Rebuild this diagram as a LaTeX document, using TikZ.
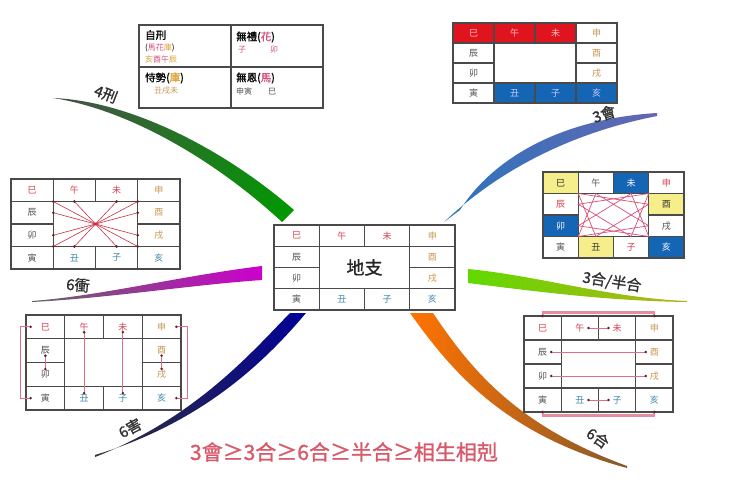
\documentclass[tikz,border=0pt]{standalone}
\usepackage{fontspec}
\setmainfont{Noto Sans CJK TC}
\newfontfamily\cjkb[FakeBold=1.2]{Noto Sans CJK TC}
\usetikzlibrary{calc}
\definecolor{gline}{HTML}{4A4A4A}
\definecolor{cred}{HTML}{D8404F}
\definecolor{ctan}{HTML}{C8964E}
\definecolor{cgray}{HTML}{505050}
\definecolor{cteal}{HTML}{3A8AA8}
\definecolor{fred}{HTML}{E0141E}
\definecolor{fblue}{HTML}{1565B5}
\definecolor{fyel}{HTML}{F6EE8A}
\definecolor{lpink}{HTML}{E07088}
\definecolor{lred}{HTML}{D03040}
\definecolor{dotcol}{HTML}{5A2030}
\definecolor{tp}{HTML}{D8507A}
\definecolor{ty}{HTML}{E0A030}
\definecolor{tt}{HTML}{C89A60}
\definecolor{bottomred}{HTML}{D85A6A}
\definecolor{labcol}{HTML}{303030}
\tikzset{
  gridline/.style={draw=gline, line width=1.1pt},
  cellt/.style={font=\fontsize{9}{10}\selectfont, inner sep=1pt},
  lsi/.style={text=cred}, lwu/.style={text=cred}, lwei/.style={text=cred},
  lshen/.style={text=ctan}, lyou/.style={text=ctan}, lxu/.style={text=ctan},
  lchen/.style={text=cgray}, lmao/.style={text=cgray}, lyin/.style={text=cgray},
  lchou/.style={text=cteal}, lzi/.style={text=cteal}, lhai/.style={text=cteal},
  chong/.style={draw=lred, line width=0.6pt},
  tri/.style={draw=tp, line width=0.7pt},
  hai/.style={draw=lpink, line width=0.9pt},
  he/.style={draw=lpink, line width=0.9pt},
  hebar/.style={draw=lpink!80, line width=2.2pt},
  branchlab/.style={font=\cjkb\fontsize{15}{16}\selectfont, text=labcol, inner sep=0pt},
  tabhead/.style={font=\cjkb\fontsize{10.5}{11}\selectfont, anchor=west, inner sep=0pt, text=black},
  tabsmall/.style={font=\fontsize{8}{9}\selectfont, anchor=west, inner sep=0pt},
}
\newcommand\dzgrid[5]{%
  \pgfmathsetmacro\gx{#2}\pgfmathsetmacro\gy{#3}%
  \pgfmathsetmacro\gw{(#4-#2)/4}\pgfmathsetmacro\gh{(#5-#3)/4}%
  \draw[gridline] (#2,#3) rectangle (#4,#5);
  \draw[gridline] (\gx+\gw,#3) -- (\gx+\gw,#5);
  \draw[gridline] (\gx+3*\gw,#3) -- (\gx+3*\gw,#5);
  \draw[gridline] (\gx+2*\gw,#3) -- (\gx+2*\gw,\gy+\gh);
  \draw[gridline] (\gx+2*\gw,\gy+3*\gh) -- (\gx+2*\gw,#5);
  \draw[gridline] (#2,\gy+\gh) -- (#4,\gy+\gh);
  \draw[gridline] (#2,\gy+3*\gh) -- (#4,\gy+3*\gh);
  \draw[gridline] (#2,\gy+2*\gh) -- (\gx+\gw,\gy+2*\gh);
  \draw[gridline] (\gx+3*\gw,\gy+2*\gh) -- (#4,\gy+2*\gh);
  \node[cellt,lsi] (#1-si) at (\gx+0.5*\gw,\gy+0.5*\gh) {巳};
  \node[cellt,lwu] (#1-wu) at (\gx+1.5*\gw,\gy+0.5*\gh) {午};
  \node[cellt,lwei] (#1-wei) at (\gx+2.5*\gw,\gy+0.5*\gh) {未};
  \node[cellt,lshen] (#1-shen) at (\gx+3.5*\gw,\gy+0.5*\gh) {申};
  \node[cellt,lchen] (#1-chen) at (\gx+0.5*\gw,\gy+1.5*\gh) {辰};
  \node[cellt,lyou] (#1-you) at (\gx+3.5*\gw,\gy+1.5*\gh) {酉};
  \node[cellt,lmao] (#1-mao) at (\gx+0.5*\gw,\gy+2.5*\gh) {卯};
  \node[cellt,lxu] (#1-xu) at (\gx+3.5*\gw,\gy+2.5*\gh) {戌};
  \node[cellt,lyin] (#1-yin) at (\gx+0.5*\gw,\gy+3.5*\gh) {寅};
  \node[cellt,lchou] (#1-chou) at (\gx+1.5*\gw,\gy+3.5*\gh) {丑};
  \node[cellt,lzi] (#1-zi) at (\gx+2.5*\gw,\gy+3.5*\gh) {子};
  \node[cellt,lhai] (#1-hai) at (\gx+3.5*\gw,\gy+3.5*\gh) {亥};
}
\newcommand\cellfill[7]{%
  \pgfmathsetmacro\cw{(#4-#2)/4}\pgfmathsetmacro\ch{(#5-#3)/4}%
  \fill[#1] (#2+#6*\cw,#3+#7*\ch) rectangle ++(\cw,\ch);
}
\newcommand\dzdot[1]{\fill[dotcol] #1 circle (1.4);}
\begin{document}
\begin{tikzpicture}[x=1pt,y=-1pt]
\fill[white] (0,0) rectangle (750,500);
\useasboundingbox (0,0) rectangle (750,500);

% ---------- branches ----------
\shade[left color=black!70, right color=green!60!black]
  (53,98) .. controls (130,101) and (224,149) .. (294,210)
  -- (282,222) .. controls (216,161) and (130,110) .. (53,98) -- cycle;
\shade[left color=fblue!90, right color=black!50!blue!60]
  (444,222) .. controls (478,190) and (545,138) .. (657,116)
  -- (657,113) .. controls (545,120) and (485,170) .. (460,210) -- cycle;
\shade[left color=black!60, right color=magenta!80!black]
  (32,301) .. controls (100,296) and (180,276) .. (262,266)
  -- (262,280) .. controls (190,285) and (110,298) .. (32,302) -- cycle;
\shade[left color=black!80, right color=blue!60!black]
  (290,313) .. controls (252,352) and (195,418) .. (95,457)
  -- (95,455) .. controls (205,422) and (268,358) .. (306,313) -- cycle;
\shade[left color=orange!90!red, right color=brown!70!black]
  (410,313) .. controls (452,372) and (505,435) .. (627,468)
  -- (627,466) .. controls (515,425) and (470,368) .. (433,313) -- cycle;
\shade[left color=green!55!yellow!85!black, right color=olive!60]
  (468,269) .. controls (540,276) and (610,298) .. (687,301)
  -- (687,302) .. controls (610,301) and (540,292) .. (468,283) -- cycle;

\node[branchlab, rotate=-21] (l4x) at (106,94) {4刑};
\node[branchlab, rotate=18] (l3h) at (604,114) {3會};
\node[branchlab, rotate=-5] (l6c) at (78,285) {6衝};
\node[branchlab, rotate=-9] (l3he) at (612,282) {3合/半合};
\node[branchlab, rotate=28] (l6h) at (130,428) {6害};
\node[branchlab, rotate=-35] (l6he) at (598,438) {6合};

% ---------- top-left table ----------
\draw[gridline] (139,25) rectangle (323,108);
\draw[gridline] (231,25) -- (231,108);
\draw[gridline] (139,67) -- (323,67);
\node[tabhead] (t11) at (145,35) {自刑};
\node[tabsmall] (t12) at (145,48) {(\textcolor{tp}{馬花}\textcolor{ty}{庫})};
\node[tabsmall] (t13) at (145,59) {\textcolor{ty}{亥}\textcolor{tp}{酉午}\textcolor{ty}{辰}};
\node[tabhead] (t21) at (236,37) {無禮(\textcolor{tp}{花})};
\node[tabsmall, text=tp] (t22) at (238,50) {子\hspace{24pt}卯};
\node[tabhead] (t31) at (145,78) {恃勢(\textcolor{ty}{庫})};
\node[tabsmall, text=tt] (t32) at (154,91) {丑戌未};
\node[tabhead] (t41) at (236,78) {無恩(\textcolor{tp}{馬})};
\node[tabsmall, text=cgray] (t42) at (236,91) {申寅\hspace{16pt}巳};

% ---------- 3會 grid ----------
\cellfill{fred}{453}{23}{617}{103}{0}{0}
\cellfill{fred}{453}{23}{617}{103}{1}{0}
\cellfill{fred}{453}{23}{617}{103}{2}{0}
\cellfill{fblue}{453}{23}{617}{103}{1}{3}
\cellfill{fblue}{453}{23}{617}{103}{2}{3}
\cellfill{fblue}{453}{23}{617}{103}{3}{3}
\begin{scope}[lsi/.style={text=red!25}, lwu/.style={text=red!25}, lwei/.style={text=red!25},
  lchou/.style={text=blue!20}, lzi/.style={text=blue!20}, lhai/.style={text=blue!20}]
\dzgrid{A}{453}{23}{617}{103}
\end{scope}

% ---------- 6衝 grid ----------
\dzgrid{B}{11}{179}{180}{269}
\coordinate (Bt) at (0,201.5);
\coordinate (Bb) at (0,246.5);
\coordinate (Bl) at (53.25,0);
\coordinate (Br) at (137.75,0);
\draw[chong] (B-wu |- Bt) -- (B-zi |- Bb);
\draw[chong] (B-wei |- Bt) -- (B-chou |- Bb);
\draw[chong] (Bl |- Bt) -- (Br |- Bb);
\draw[chong] (Br |- Bt) -- (Bl |- Bb);
\draw[chong] (Bl |- B-chen) -- (Br |- B-xu);
\draw[chong] (Bl |- B-mao) -- (Br |- B-you);
\foreach \p in {(B-wu |- Bt),(B-zi |- Bb),(B-wei |- Bt),(B-chou |- Bb),(Bl |- Bt),(Br |- Bb),(Br |- Bt),(Bl |- Bb),(Bl |- B-chen),(Br |- B-xu),(Bl |- B-mao),(Br |- B-you)}
  {\dzdot{\p}}
\fill[lred] (95.5,224) circle (1.6);

% ---------- center grid ----------
\dzgrid{C}{274}{225}{455}{310}
\node[font=\cjkb\fontsize{18}{19}\selectfont, text=black!85] (center) at (364.5,267.5) {地支};

% ---------- 3合 grid ----------
\cellfill{fyel}{543}{172}{684}{258}{0}{0}
\cellfill{fblue}{543}{172}{684}{258}{2}{0}
\cellfill{fyel}{543}{172}{684}{258}{3}{1}
\cellfill{fblue}{543}{172}{684}{258}{0}{2}
\cellfill{fyel}{543}{172}{684}{258}{1}{3}
\cellfill{fblue}{543}{172}{684}{258}{3}{3}
\begin{scope}[lsi/.style={text=black!80}, lwu/.style={text=cgray}, lwei/.style={text=white},
  lshen/.style={text=cred}, lchen/.style={text=cred}, lyou/.style={text=black!80},
  lmao/.style={text=white}, lxu/.style={text=cgray}, lyin/.style={text=cgray},
  lchou/.style={text=black!80}, lzi/.style={text=cred}, lhai/.style={text=white}]
\dzgrid{D}{543}{172}{684}{258}
\end{scope}
\coordinate (Dt) at (0,193.5);
\coordinate (Db) at (0,236.5);
\coordinate (Dl) at (578.25,0);
\coordinate (Dr) at (648.75,0);
\draw[tri] (Dr |- Dt) -- (D-zi |- Db) -- (Dl |- D-chen) -- cycle;
\draw[tri] (Dl |- Dt) -- (Dr |- D-you) -- (D-chou |- Db) -- cycle;
\draw[tri] (Dl |- Db) -- (D-wu |- Dt) -- (Dr |- D-xu) -- cycle;
\draw[tri] (Dr |- Db) -- (Dl |- D-mao) -- (D-wei |- Dt) -- cycle;

% ---------- 6害 grid ----------
\dzgrid{E}{26}{315}{181}{410}
\coordinate (El) at (20,0);
\coordinate (Er) at (187,0);
\draw[hai] ([xshift=-9]E-si.west) -- (El |- E-si) -- (El |- E-yin) -- ([xshift=-9]E-yin.west);
\draw[hai] ([xshift=9]E-shen.east) -- (Er |- E-shen) -- (Er |- E-hai) -- ([xshift=9]E-hai.east);
\draw[hai] (E-wu.south) -- (E-chou.north);
\draw[hai] (E-wei.south) -- (E-zi.north);
\draw[hai] (E-chen.south) -- (E-mao.north);
\draw[hai] (E-you.south) -- (E-xu.north);
\foreach \p in {([xshift=-9]E-si.west),([xshift=-9]E-yin.west),([xshift=9]E-shen.east),([xshift=9]E-hai.east),
  (E-wu.south),(E-chou.north),(E-wei.south),(E-zi.north),(E-chen.south),(E-mao.north),(E-you.south),(E-xu.north)}
  {\dzdot{\p}}

% ---------- 6合 grid ----------
\dzgrid{F}{524}{316}{673}{412}
\coordinate (Ft) at (0,312.5);
\coordinate (Fte) at (0,316);
\coordinate (Fb) at (0,415.5);
\coordinate (Fbe) at (0,412);
\draw[hebar] (F-si |- Fte) -- (F-si |- Ft) -- (F-shen |- Ft) -- (F-shen |- Fte);
\draw[hebar] (F-yin |- Fbe) -- (F-yin |- Fb) -- (F-hai |- Fb) -- (F-hai |- Fbe);
\draw[he] ([xshift=3]F-wu.east) -- ([xshift=-3]F-wei.west);
\draw[he] ([xshift=3]F-chou.east) -- ([xshift=-3]F-zi.west);
\draw[he] ([xshift=3]F-chen.east) -- ([xshift=-3]F-you.west);
\draw[he] ([xshift=3]F-mao.east) -- ([xshift=-3]F-xu.west);
\foreach \p in {(F-si |- Fte),(F-shen |- Fte),(F-yin |- Fbe),(F-hai |- Fbe),
  ([xshift=3]F-wu.east),([xshift=-3]F-wei.west),([xshift=3]F-chou.east),([xshift=-3]F-zi.west),
  ([xshift=3]F-chen.east),([xshift=-3]F-you.west),([xshift=3]F-mao.east),([xshift=-3]F-xu.west)}
  {\dzdot{\p}}

% ---------- bottom text ----------
\node[font=\cjkb\fontsize{21}{23}\selectfont, text=bottomred] (order) at (344,452) {3會≥3合≥6合≥半合≥相生相剋};
\end{tikzpicture}
\end{document}
